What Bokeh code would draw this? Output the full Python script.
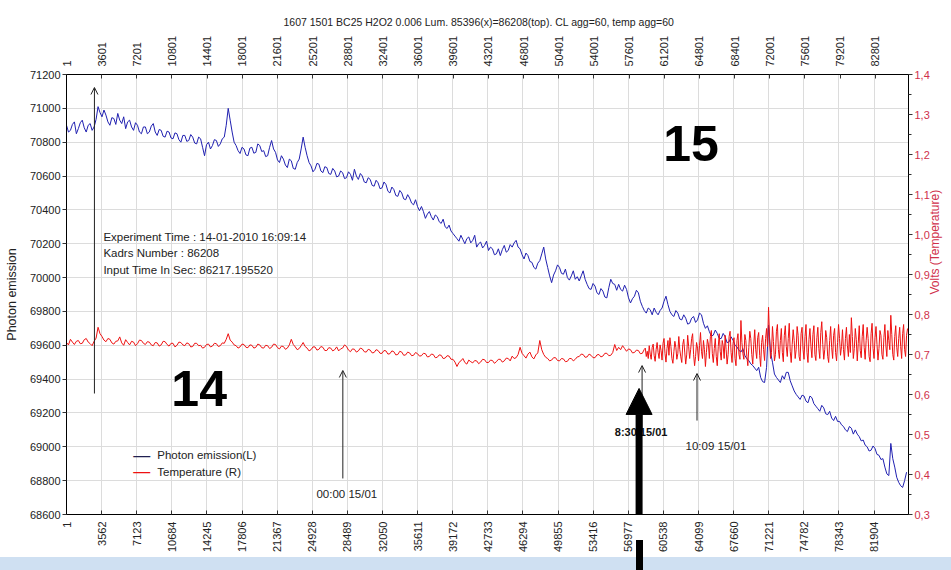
import math
from bokeh.plotting import figure
from bokeh.layouts import column
from bokeh.models import (Range1d, LinearAxis, FixedTicker, Arrow, OpenHead, NormalHead,
                          Label, Grid, Div)
from bokeh.embed import file_html
from bokeh.resources import INLINE

TITLE = "1607 1501 BC25 H2O2 0.006 Lum. 85396(x)=86208(top). CL agg=60, temp agg=60"

bottom_ticks = [1, 3562, 7123, 10684, 14245, 17806, 21367, 24928, 28489, 32050, 35611, 39172,
                42733, 46294, 49855, 53416, 56977, 60538, 64099, 67660, 71221, 74782, 78343, 81904]
top_ticks = [1, 3601, 7201, 10801, 14401, 18001, 21601, 25201, 28801, 32401, 36001, 39601,
             43201, 46801, 50401, 54001, 57601, 61201, 64801, 68401, 72001, 75601, 79201, 82801]
left_ticks = [68600, 68800, 69000, 69200, 69400, 69600, 69800, 70000, 70200, 70400, 70600,
              70800, 71000, 71200]
right_ticks = [0.3, 0.4, 0.5, 0.6, 0.7, 0.8, 0.9, 1.0, 1.1, 1.2, 1.3, 1.4]
right_minor = [0.35, 0.45, 0.55, 0.65, 0.75, 0.85, 0.95, 1.05, 1.15, 1.25, 1.35]
right_labels = ["0,3", "0,4", "0,5", "0,6", "0,7", "0,8", "0,9", "1,0", "1,1", "1,2", "1,3", "1,4"]

# kadr number of each aggregated sample
frame = list(range(1, 85397, 200))
# temperature: same sampling until the noisy stretch, then twice as dense
temp_frame = list(range(1, 58602, 200)) + list(range(58701, 85397, 100))

photon = [
    70900, 70860, 70870, 70905, 70920, 70850, 70880, 70915, 70930, 70885, 70860, 70900, 70910, 70870, 70890, 70935, 71010, 70975, 70950, 70990,
    70960, 70920, 70900, 70945, 70940, 70905, 70970, 70930, 70910, 70950, 70880, 70920, 70930, 70890, 70870, 70915, 70900, 70860, 70850, 70890,
    70890, 70850, 70860, 70895, 70910, 70860, 70840, 70875, 70870, 70835, 70830, 70865, 70860, 70825, 70820, 70855, 70850, 70815, 70800, 70840,
    70840, 70805, 70810, 70845, 70830, 70795, 70790, 70830, 70820, 70770, 70720, 70785, 70800, 70760, 70780, 70815, 70810, 70775, 70790, 70820,
    70830, 70900, 71000, 70930, 70860, 70800, 70780, 70750, 70733, 70770, 70760, 70725, 70720, 70765, 70770, 70735, 70740, 70790, 70780, 70745,
    70750, 70715, 70720, 70770, 70810, 70760, 70740, 70695, 70680, 70720, 70700, 70665, 70650, 70700, 70690, 70645, 70640, 70680, 70700, 70760,
    70830, 70770, 70720, 70680, 70660, 70625, 70640, 70675, 70670, 70630, 70620, 70655, 70650, 70615, 70610, 70645, 70630, 70595, 70600, 70630,
    70620, 70585, 70590, 70625, 70610, 70575, 70640, 70600, 70580, 70615, 70600, 70565, 70560, 70590, 70580, 70545, 70540, 70575, 70560, 70525,
    70530, 70565, 70550, 70510, 70500, 70535, 70520, 70485, 70480, 70515, 70500, 70465, 70460, 70490, 70470, 70440, 70430, 70460, 70420, 70395,
    70420, 70390, 70350, 70375, 70390, 70360, 70340, 70370, 70360, 70330, 70320, 70345, 70300, 70290, 70310, 70275, 70260, 70245, 70230, 70215,
    70250, 70225, 70200, 70230, 70240, 70205, 70220, 70250, 70180, 70200, 70210, 70175, 70190, 70215, 70160, 70180, 70170, 70135, 70140, 70170,
    70130, 70165, 70190, 70150, 70160, 70195, 70180, 70205, 70220, 70180, 70170, 70135, 70110, 70145, 70130, 70095, 70090, 70060, 70050, 70085,
    70100, 70140, 70180, 70110, 70060, 70010, 69970, 70015, 70040, 70075, 70060, 70025, 70020, 70050, 70000, 69985, 70010, 70040, 69990, 70005,
    69980, 70010, 70040, 69990, 69960, 69935, 69930, 69965, 69950, 69910, 69900, 69935, 69920, 69885, 69880, 69940, 69990, 69965, 69960, 69925,
    69960, 69930, 69920, 69955, 69930, 69880, 69850, 69875, 69890, 69925, 69910, 69860, 69830, 69805, 69790, 69820, 69810, 69780, 69820, 69795,
    69780, 69805, 69820, 69860, 69890, 69840, 69800, 69780, 69770, 69805, 69790, 69755, 69750, 69780, 69760, 69725, 69730, 69760, 69770, 69735,
    69750, 69790, 69780, 69730, 69700, 69715, 69680, 69655, 69660, 69690, 69670, 69640, 69640, 69670, 69650, 69615, 69620, 69650, 69630, 69600,
    69590, 69570, 69560, 69580, 69540, 69520, 69510, 69490, 69480, 69465, 69450, 69470, 69410, 69385, 69380, 69470, 69720, 69560, 69500, 69430,
    69410, 69395, 69380, 69420, 69400, 69440, 69440, 69390, 69360, 69330, 69310, 69295, 69280, 69305, 69300, 69270, 69260, 69300, 69290, 69255,
    69240, 69225, 69210, 69245, 69230, 69195, 69190, 69210, 69170, 69155, 69180, 69150, 69150, 69130, 69120, 69100, 69090, 69120, 69110, 69075,
    69100, 69075, 69060, 69035, 69040, 69010, 69000, 68975, 68980, 69005, 68990, 68955, 68950, 68925, 68930, 68880, 68840, 68830, 69020, 68930,
    68880, 68820, 68790, 68770, 68760, 68800, 68850,
]

temperature = [
    # 1 .. 58601, every 200
    0.730, 0.724, 0.738, 0.731, 0.725, 0.733, 0.735, 0.727, 0.728, 0.737, 0.740, 0.731, 0.727, 0.722, 0.733, 0.741, 0.768, 0.752, 0.745, 0.736,
    0.732, 0.740, 0.738, 0.729, 0.726, 0.733, 0.734, 0.744, 0.729, 0.723, 0.737, 0.730, 0.724, 0.733, 0.731, 0.722, 0.727, 0.736, 0.735, 0.728,
    0.725, 0.732, 0.731, 0.724, 0.722, 0.730, 0.729, 0.721, 0.724, 0.733, 0.732, 0.725, 0.721, 0.728, 0.728, 0.719, 0.723, 0.731, 0.730, 0.724,
    0.722, 0.729, 0.727, 0.719, 0.720, 0.728, 0.728, 0.722, 0.723, 0.716, 0.718, 0.725, 0.726, 0.719, 0.721, 0.728, 0.727, 0.720, 0.722, 0.729,
    0.728, 0.738, 0.752, 0.736, 0.731, 0.724, 0.722, 0.716, 0.719, 0.726, 0.725, 0.718, 0.717, 0.724, 0.723, 0.716, 0.718, 0.726, 0.724, 0.717,
    0.716, 0.723, 0.722, 0.715, 0.718, 0.726, 0.725, 0.717, 0.714, 0.721, 0.720, 0.713, 0.716, 0.724, 0.738, 0.725, 0.719, 0.712, 0.715, 0.722,
    0.730, 0.720, 0.716, 0.709, 0.712, 0.719, 0.719, 0.711, 0.713, 0.720, 0.718, 0.710, 0.710, 0.717, 0.716, 0.709, 0.712, 0.719, 0.709, 0.714,
    0.716, 0.724, 0.720, 0.711, 0.707, 0.714, 0.713, 0.706, 0.709, 0.716, 0.714, 0.707, 0.706, 0.713, 0.711, 0.704, 0.705, 0.712, 0.710, 0.703,
    0.703, 0.710, 0.709, 0.701, 0.702, 0.709, 0.707, 0.699, 0.700, 0.708, 0.706, 0.698, 0.699, 0.706, 0.704, 0.697, 0.698, 0.705, 0.702, 0.696,
    0.697, 0.703, 0.702, 0.694, 0.695, 0.701, 0.700, 0.692, 0.693, 0.699, 0.698, 0.690, 0.691, 0.697, 0.696, 0.688, 0.688, 0.681, 0.670, 0.680,
    0.684, 0.690, 0.680, 0.676, 0.686, 0.682, 0.679, 0.685, 0.684, 0.677, 0.681, 0.688, 0.687, 0.680, 0.680, 0.686, 0.685, 0.678, 0.682, 0.688,
    0.688, 0.681, 0.684, 0.691, 0.690, 0.684, 0.696, 0.690, 0.692, 0.700, 0.718, 0.703, 0.697, 0.691, 0.701, 0.706, 0.694, 0.689, 0.699, 0.704,
    0.735, 0.712, 0.700, 0.693, 0.690, 0.684, 0.686, 0.692, 0.692, 0.685, 0.684, 0.690, 0.689, 0.682, 0.683, 0.690, 0.690, 0.684, 0.688, 0.694,
    0.695, 0.701, 0.700, 0.693, 0.694, 0.701, 0.698, 0.692, 0.692, 0.699, 0.700, 0.694, 0.696, 0.703, 0.703, 0.697, 0.698, 0.705, 0.725, 0.710,
    0.718, 0.712, 0.722, 0.715, 0.708, 0.714, 0.712, 0.704, 0.705, 0.711, 0.710, 0.702, 0.703, 0.713,
    # 58701 .. 85301, every 100
    0.716, 0.695, 0.708, 0.690, 0.722, 0.701, 0.688, 0.718, 0.726, 0.697, 0.683, 0.712, 0.730, 0.705, 0.690, 0.724, 0.710, 0.686, 0.728, 0.740,
    0.702, 0.681, 0.715, 0.735, 0.698, 0.742, 0.720, 0.690, 0.678, 0.707, 0.733, 0.718, 0.688, 0.702, 0.745, 0.712, 0.694, 0.680, 0.725, 0.738,
    0.706, 0.676, 0.699, 0.748, 0.720, 0.690, 0.712, 0.740, 0.752, 0.700, 0.672, 0.695, 0.730, 0.716, 0.684, 0.722, 0.755, 0.708, 0.690, 0.735,
    0.712, 0.670, 0.705, 0.738, 0.726, 0.690, 0.745, 0.760, 0.702, 0.680, 0.715, 0.740, 0.695, 0.672, 0.720, 0.752, 0.708, 0.686, 0.735, 0.722,
    0.690, 0.748, 0.712, 0.676, 0.700, 0.745, 0.758, 0.705, 0.680, 0.728, 0.742, 0.690, 0.672, 0.735, 0.752, 0.700, 0.688, 0.785, 0.730, 0.702,
    0.688, 0.750, 0.735, 0.695, 0.672, 0.718, 0.758, 0.740, 0.700, 0.676, 0.725, 0.762, 0.712, 0.690, 0.742, 0.755, 0.698, 0.670, 0.730, 0.748,
    0.712, 0.685, 0.740, 0.765, 0.720, 0.818, 0.745, 0.690, 0.705, 0.770, 0.732, 0.684, 0.700, 0.758, 0.775, 0.712, 0.690, 0.735, 0.765, 0.705,
    0.682, 0.748, 0.772, 0.720, 0.695, 0.740, 0.778, 0.708, 0.680, 0.725, 0.762, 0.735, 0.690, 0.712, 0.770, 0.748, 0.695, 0.684, 0.752, 0.768,
    0.712, 0.688, 0.745, 0.775, 0.705, 0.680, 0.738, 0.765, 0.720, 0.692, 0.750, 0.772, 0.700, 0.685, 0.742, 0.768, 0.715, 0.690, 0.755, 0.782,
    0.725, 0.688, 0.712, 0.760, 0.742, 0.695, 0.680, 0.735, 0.770, 0.718, 0.690, 0.748, 0.765, 0.705, 0.684, 0.730, 0.775, 0.740, 0.698, 0.720,
    0.762, 0.712, 0.686, 0.740, 0.768, 0.722, 0.695, 0.750, 0.705, 0.792, 0.745, 0.690, 0.715, 0.765, 0.738, 0.684, 0.728, 0.772, 0.710, 0.692,
    0.745, 0.775, 0.718, 0.688, 0.735, 0.768, 0.740, 0.695, 0.682, 0.752, 0.778, 0.715, 0.690, 0.742, 0.770, 0.725, 0.686, 0.715, 0.760, 0.748,
    0.700, 0.688, 0.742, 0.775, 0.722, 0.695, 0.760, 0.735, 0.712, 0.798, 0.750, 0.700, 0.686, 0.745, 0.772, 0.718, 0.695, 0.740, 0.768, 0.720,
    0.690, 0.752, 0.775, 0.712, 0.695, 0.748, 0.765,
]

FONT = "Liberation Sans"
TXT = "#222222"
RED_AX = "#d0304a"
BLUE = "#2020b0"
RED = "#ee1111"

p = figure(width=951, height=570, output_backend="svg", toolbar_location=None,
           x_range=Range1d(1, 85396), y_range=Range1d(68600, 71200),
           x_axis_location=None, y_axis_location=None,
           min_border_left=66, min_border_right=41, min_border_top=74, min_border_bottom=56,
           background_fill_color="white", border_fill_color="white", outline_line_color="black")
p.extra_x_ranges = {"top": Range1d(1, 86208)}
p.extra_y_ranges = {"volts": Range1d(0.3, 1.4)}

p.title.text = TITLE
p.title.text_font = FONT
p.title.text_font_size = "10.5px"
p.title.text_font_style = "normal"
p.title.text_color = TXT
p.title.align = "left"
p.title.offset = 217


def style_axis(ax, size="11px"):
    ax.major_label_text_font = FONT
    ax.major_label_text_font_size = size
    ax.major_label_text_color = TXT
    ax.axis_line_color = "black"
    ax.major_tick_line_color = "#333333"
    ax.minor_tick_line_color = "#333333"
    ax.axis_label_text_font = FONT
    ax.axis_label_text_font_style = "normal"


bottom = LinearAxis(ticker=FixedTicker(ticks=bottom_ticks), major_label_orientation=math.pi / 2)
style_axis(bottom)
bottom.major_tick_in = 4
bottom.major_tick_out = 0
bottom.major_label_standoff = 7
p.add_layout(bottom, "below")

top = LinearAxis(x_range_name="top", ticker=FixedTicker(ticks=top_ticks),
                 major_label_orientation=math.pi / 2)
style_axis(top)
top.major_tick_in = 4
top.major_tick_out = 0
top.major_label_standoff = 8
p.add_layout(top, "above")

left = LinearAxis(ticker=FixedTicker(ticks=left_ticks), axis_label="Photon emission")
style_axis(left)
left.major_tick_in = 0
left.major_tick_out = 4
left.major_label_standoff = 2
left.axis_label_text_font_size = "12.5px"
left.axis_label_text_color = TXT
left.axis_label_standoff = 8
p.add_layout(left, "left")

right = LinearAxis(y_range_name="volts",
                   ticker=FixedTicker(ticks=right_ticks, minor_ticks=right_minor),
                   axis_label="Volts (Temperature)")
style_axis(right)
right.major_label_overrides = dict(zip(right_ticks, right_labels))
right.major_label_text_color = RED_AX
right.major_tick_in = 0
right.major_tick_out = 4
right.minor_tick_in = 0
right.minor_tick_out = 3
right.major_label_standoff = 2
right.axis_label_text_font_size = "12px"
right.axis_label_text_color = RED_AX
right.axis_label_standoff = 2
if "axis_label_orientation" in right.properties():
    right.axis_label_orientation = math.pi / 2
p.add_layout(right, "right")

p.xgrid.visible = False
p.ygrid.visible = False
p.add_layout(Grid(dimension=0, ticker=bottom.ticker, grid_line_color="#dcdcdc"))
p.add_layout(Grid(dimension=1, ticker=left.ticker, grid_line_color="#dcdcdc"))

blue_r = p.line(frame, photon, line_color=BLUE, line_width=1)
red_r = p.line(temp_frame, temperature, y_range_name="volts", line_color=RED, line_width=1)

# legend (drawn by hand: sample dash + label)
p.add_layout(Label(x=6780, y=68949, text="\u2014", text_font=FONT, text_font_size="17px",
                   text_color="#202050", text_baseline="middle", text_align="left"))
p.add_layout(Label(x=6780, y=68854, text="\u2014", text_font=FONT, text_font_size="17px",
                   text_color=RED, text_baseline="middle", text_align="left"))
p.add_layout(Label(x=9208, y=68949, text="Photon emission(L)", text_font=FONT,
                   text_font_size="11.5px", text_color=TXT, text_baseline="middle"))
p.add_layout(Label(x=9208, y=68854, text="Temperature (R)", text_font=FONT,
                   text_font_size="11.5px", text_color=TXT, text_baseline="middle"))

# info block
for yy, t in [(70237, "Experiment Time : 14-01-2010 16:09:14"),
              (70143, "Kadrs Number : 86208"),
              (70042, "Input Time In Sec: 86217.195520")]:
    p.add_layout(Label(x=3744, y=yy, text=t, text_font=FONT, text_font_size="11.5px",
                       text_color=TXT, text_baseline="middle", text_align="left"))

# thin arrows
for xs, ys, ye in [(2834, 69315, 71123), (28027, 68813, 69451), (63946, 69155, 69433),
                   (58376, 69085, 69480)]:
    p.add_layout(Arrow(x_start=xs, y_start=ys, x_end=xs, y_end=ye, line_width=1,
                       line_color="#222222",
                       end=OpenHead(size=7, line_width=1, line_color="#222222")))

p.add_layout(Label(x=28430, y=68724, text="00:00 15/01", text_font=FONT, text_font_size="11.5px",
                   text_color=TXT, text_baseline="middle", text_align="center"))
p.add_layout(Label(x=65866, y=69002, text="10:09 15/01", text_font=FONT, text_font_size="11.5px",
                   text_color=TXT, text_baseline="middle", text_align="center"))
p.add_layout(Label(x=58275, y=69085, text="8:30 15/01", text_font=FONT, text_font_size="11px",
                   text_font_style="bold", text_color="#111111", text_baseline="middle",
                   text_align="center"))

# big arrow
p.add_layout(Arrow(x_start=58073, y_start=68260, x_end=58073, y_end=69345, line_width=7,
                   line_color="black",
                   end=NormalHead(size=26, fill_color="black", line_color="black")))

p.add_layout(Label(x=13457, y=69345, text="14", text_font=FONT, text_font_size="50px",
                   text_font_style="bold", text_color="black", text_baseline="middle",
                   text_align="center"))
p.add_layout(Label(x=63334, y=70792, text="15", text_font=FONT, text_font_size="50px",
                   text_font_style="bold", text_color="black", text_baseline="middle",
                   text_align="center"))

# slide strip along the bottom edge, with the tail of the big arrow running through it
strip = Div(width=951, height=30, margin=(-30, 0, 0, 0),
            text=('<div style="position:relative;width:951px;height:30px;">'
                  '<div style="position:absolute;left:0;top:17px;width:951px;height:13px;'
                  'background:#cfe0f2;"></div>'
                  '<div style="position:absolute;left:636px;top:0;width:7px;height:30px;'
                  'background:#000;"></div></div>'))

layout = column(p, strip, spacing=0)
open("out.html", "w").write(file_html(layout, INLINE))
